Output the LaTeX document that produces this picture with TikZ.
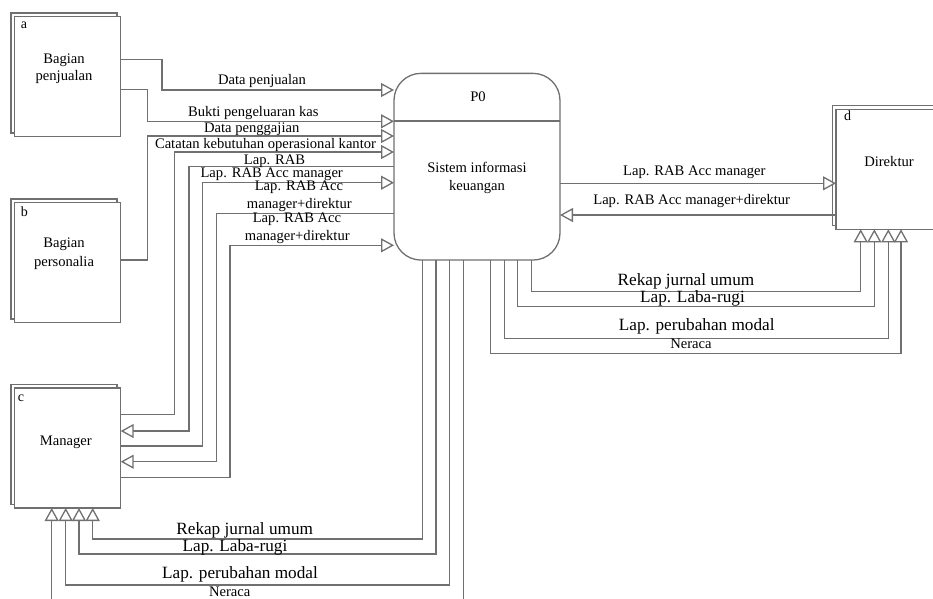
\documentclass[tikz,border=0pt]{standalone}
\usepackage{fontspec}
\setmainfont{Liberation Serif}
\usetikzlibrary{arrows.meta,shadows}
\definecolor{linegray}{RGB}{112,112,112}
\begin{document}
\begin{tikzpicture}[x=1pt,y=-1pt,
  every node/.style={inner sep=0pt, outer sep=0pt},
  entity/.style={draw=linegray, line width=1.3pt, fill=white,
    minimum width=106pt, minimum height=120pt,
    copy shadow={shadow xshift=-3.7pt, shadow yshift=3.7pt}},
  process/.style={draw=linegray, line width=1.3pt, fill=white,
    rounded corners=27pt, minimum width=166pt, minimum height=186.7pt},
  wire/.style={draw=linegray, line width=1.3pt},
  flow/.style={wire, -{Triangle[open, fill=white, length=13pt, width=14pt]}},
  txt/.style={anchor=base, font=\fontsize{14.6}{17}\selectfont},
  txtbig/.style={anchor=base, font=\fontsize{17.2}{20}\selectfont},
  tag/.style={anchor=base, font=\fontsize{14}{16}\selectfont},
]
\clip (0,0) rectangle (933,598);

% external entities and the process
\node[entity] (a) at (67.7,76.7) {};
\node[entity] (b) at (67.7,262.7) {};
\node[entity] (c) at (67.7,448) {};
\node[entity] (d) at (889,169.3) {};
\node[process] (p0) at (477,166.7) {};
\draw[wire] (p0.west |- 0,121) -- (p0.east |- 0,121);

% entity and process texts
\node[tag] (a-id) at (24,28.3) {a};
\node[txt] (a-n1) at (64,63.3) {Bagian};
\node[txt] (a-n2) at (64,80) {penjualan};
\node[tag] (b-id) at (24.3,216.7) {b};
\node[txt] (b-n1) at (64,247.7) {Bagian};
\node[txt] (b-n2) at (64,266) {personalia};
\node[tag] (c-id) at (21,401) {c};
\node[txt] (c-n1) at (65.8,445) {Manager};
\node[tag] (d-id) at (847.7,120) {d};
\node[txt] (d-n1) at (889,166.7) {Direktur};
\node[txt] (p0-id) at (478,101.7) {P0};
\node[txt] (p0-n1) at (477,172.7) {Sistem informasi};
\node[txt] (p0-n2) at (477,190) {keuangan};

% flows on the left of P0
\draw[flow] (a.east |- 0,59.3) -- (162,59.3) -- (162,90) -- (p0.west |- 0,90);
\node[txt] (f1) at (262,84.3) {Data penjualan};
\draw[flow] (a.east |- 0,89.3) -- (147.7,89.3) -- (147.7,121.3) -- (p0.west |- 0,121.3);
\node[txt] (f2) at (253.3,116) {Bukti pengeluaran kas};
\draw[flow] (b.east |- 0,260) -- (147.7,260) -- (147.7,136) -- (p0.west |- 0,136);
\node[txt] (f3) at (251.7,132.7) {Data penggajian};
\draw[flow] (c.east |- 0,414.3) -- (174.3,414.3) -- (174.3,152) -- (p0.west |- 0,152);
\node[txt] (f4) at (265.5,148.3) {Catatan kebutuhan operasional kantor};
\draw[flow] (p0.west |- 0,166.7) -- (189,166.7) -- (189,431) -- (c.east |- 0,431);
\node[txt] (f5) at (274.5,164.3) {Lap. RAB};
\draw[flow] (c.east |- 0,446) -- (202.3,446) -- (202.3,182.7) -- (p0.west |- 0,182.7);
\node[txt] (f6) at (271.7,177.7) {Lap. RAB Acc manager};
\draw[flow] (p0.west |- 0,213.3) -- (216.7,213.3) -- (216.7,461.7) -- (c.east |- 0,461.7);
\node[txt] (f7a) at (299,190) {Lap. RAB Acc};
\node[txt] (f7b) at (299.3,208.7) {manager+direktur};
\draw[flow] (c.east |- 0,477.3) -- (230,477.3) -- (230,245.3) -- (p0.west |- 0,245.3);
\node[txt] (f8a) at (297,222.7) {Lap. RAB Acc};
\node[txt] (f8b) at (297.3,240.7) {manager+direktur};

% flows between P0 and Direktur
\draw[flow] (p0.east |- 0,183.3) -- (d.west |- 0,183.3);
\node[txt] (f9) at (694.3,175.3) {Lap. RAB Acc manager};
\draw[flow] (d.west |- 0,215) -- (p0.east |- 0,215);
\node[txt] (f10) at (691.7,204) {Lap. RAB Acc manager+direktur};

\draw[flow] (p0.south -| 531.7,0) -- (531.7,291.3) -- (860.7,291.3) -- (d.south -| 860.7,0);
\node[txtbig] (f11) at (686,285) {Rekap jurnal umum};
\draw[flow] (p0.south -| 517.7,0) -- (517.7,306.7) -- (874.3,306.7) -- (d.south -| 874.3,0);
\node[txtbig] (f12) at (692.5,302.3) {Lap. Laba-rugi};
\draw[flow] (p0.south -| 504.3,0) -- (504.3,338.3) -- (888.3,338.3) -- (d.south -| 888.3,0);
\node[txtbig] (f13) at (696.7,330.7) {Lap. perubahan modal};
\draw[flow] (p0.south -| 490.7,0) -- (490.7,353.3) -- (901,353.3) -- (d.south -| 901,0);
\node[txt] (f14) at (691,348.3) {Neraca};

% reports from P0 down to the Manager
\draw[flow] (p0.south -| 422.7,0) -- (422.7,539) -- (92.7,539) -- (c.south -| 92.7,0);
\node[txtbig] (f15) at (244.7,534) {Rekap jurnal umum};
\draw[flow] (p0.south -| 436,0) -- (436,554) -- (79,554) -- (c.south -| 79,0);
\node[txtbig] (f16) at (235,551.7) {Lap. Laba-rugi};
\draw[flow] (p0.south -| 449.3,0) -- (449.3,585) -- (65.7,585) -- (c.south -| 65.7,0);
\node[txtbig] (f17) at (240,578.3) {Lap. perubahan modal};
\draw[flow] (p0.south -| 463.3,0) -- (463.3,602) -- (51.7,602) -- (c.south -| 51.7,0);
\node[txt] (f18) at (229.7,596.7) {Neraca};
\end{tikzpicture}
\end{document}
